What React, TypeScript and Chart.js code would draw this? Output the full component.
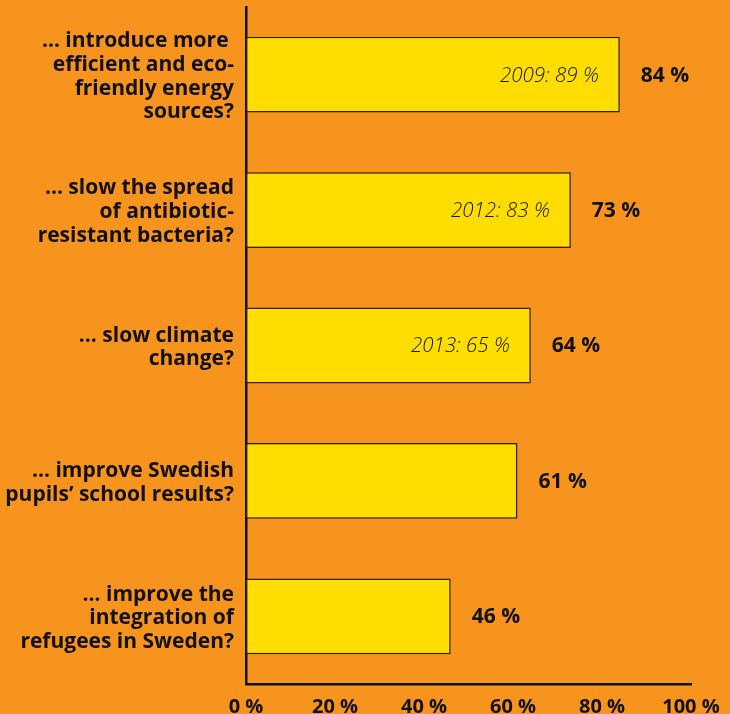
import React, { useEffect, useRef } from "react";
import { Chart, registerables } from "chart.js";

Chart.register(...registerables);

const categories: string[][] = [
  ["… introduce more ", "efficient and eco-", "friendly energy", "sources?"],
  ["… slow the spread", "of antibiotic-", "resistant bacteria?"],
  ["… slow climate", "change?"],
  ["… improve Swedish", "pupils’ school results?"],
  ["… improve the", "integration of", "refugees in Sweden?"],
];
const values: number[] = [84, 73, 64, 61, 46];
const valueLabels: string[] = ["84 %", "73 %", "64 %", "61 %", "46 %"];
const previousLabels: string[] = ["2009: 89 %", "2012: 83 %", "2013: 65 %", "", ""];
const xTicks: number[] = [0, 20, 40, 60, 80, 100];

const FONT = "'Open Sans', 'Noto Sans', sans-serif";
const BG = "#F7941E";
const BAR = "#FFDD00";

const labelPlugin = {
  id: "barLabels",
  afterDatasetsDraw(chart: any) {
    const ctx = chart.ctx;
    const meta = chart.getDatasetMeta(0);
    ctx.save();
    meta.data.forEach((bar: any, i: number) => {
      const end = bar.x;
      const y = bar.y + 1;
      ctx.textBaseline = "middle";
      ctx.fillStyle = "#111";
      ctx.textAlign = "left";
      ctx.font = `bold 21px ${FONT}`;
      ctx.fillText(valueLabels[i], end + 21, y);
      if (previousLabels[i]) {
        ctx.textAlign = "right";
        ctx.fillStyle = "#151515";
        ctx.font = `italic 300 20.5px ${FONT}`;
        ctx.fillText(previousLabels[i], end - 21, y);
      }
    });
    ctx.restore();
  },
};

export default function App() {
  const ref = useRef<HTMLCanvasElement>(null);
  useEffect(() => {
    if (!ref.current) return;
    const chart = new Chart(ref.current, {
      type: "bar",
      data: {
        labels: categories,
        datasets: [
          {
            data: values,
            backgroundColor: BAR,
            borderColor: "#2a2200",
            borderWidth: 1.5,
            borderSkipped: false,
            barPercentage: 0.56,
            categoryPercentage: 1,
          },
        ],
      },
      options: {
        indexAxis: "y",
        animation: false,
        responsive: false,
        maintainAspectRatio: false,
        layout: { padding: { left: 0, right: 39, top: 7, bottom: 0 } },
        plugins: { legend: { display: false }, tooltip: { enabled: false } },
        scales: {
          x: {
            min: 0,
            max: 100,
            afterBuildTicks(scale: any) {
              scale.ticks = xTicks.map((v) => ({ value: v }));
            },
            afterFit(scale: any) {
              scale.height = 30;
              scale.paddingLeft = 0;
              scale.paddingRight = 0;
            },
            grid: { display: false, drawTicks: false },
            border: { display: true, color: "#111", width: 2.5 },
            ticks: {
              padding: 11,
              color: "#111",
              font: { family: FONT, size: 20, weight: "bold" },
              callback: (v: any) => `${v} %`,
              maxRotation: 0,
            },
          },
          y: {
            afterFit(scale: any) {
              scale.width = 246;
              scale.paddingTop = 0;
              scale.paddingBottom = 0;
            },
            grid: { display: false, drawTicks: false },
            border: { display: true, color: "#111", width: 2.5 },
            ticks: {
              padding: 12,
              labelOffset: 2,
              color: "#111",
              font: { family: FONT, size: 21, weight: "bold", lineHeight: 1.13 },
            },
          },
        },
      },
      plugins: [labelPlugin],
    });
    return () => chart.destroy();
  }, []);
  return (
    <div style={{ position: "fixed", left: 0, top: 0, width: 730, height: 714, background: BG }}>
      <canvas ref={ref} width={730} height={714} style={{ display: "block" }} />
    </div>
  );
}
